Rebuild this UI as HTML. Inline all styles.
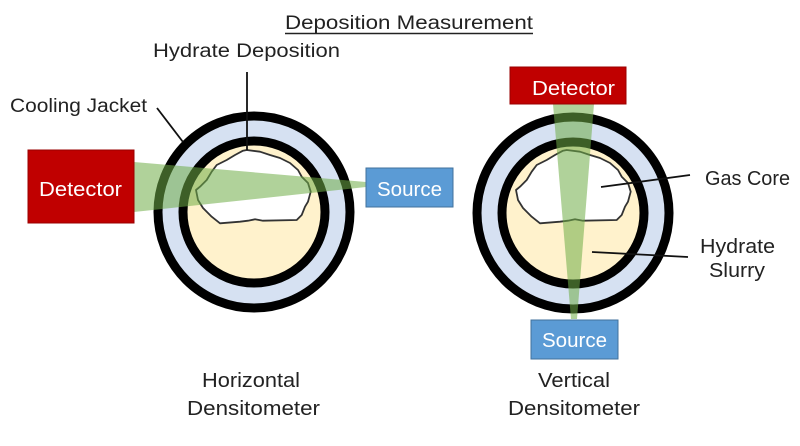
<!DOCTYPE html>
<html>
<head>
<meta charset="utf-8">
<style>
  html,body{margin:0;padding:0;background:#fff;}
  svg{display:block;}
  text{font-family:"Liberation Sans",sans-serif;fill:#222;}
</style>
</head>
<body>
<svg width="800" height="446" viewBox="0 0 800 446" xmlns="http://www.w3.org/2000/svg">
  <rect x="0" y="0" width="800" height="446" fill="#fff"/>

  <!-- Title -->
  <text x="285" y="29" font-size="19" textLength="248" lengthAdjust="spacingAndGlyphs">Deposition Measurement</text>
  <line x1="285" y1="33.5" x2="533" y2="33.5" stroke="#222" stroke-width="1.4"/>

  <!-- ===== Left (Horizontal) ===== -->
  <text x="153" y="57" font-size="19" textLength="187" lengthAdjust="spacingAndGlyphs">Hydrate Deposition</text>
  <text x="10" y="112" font-size="19" textLength="137" lengthAdjust="spacingAndGlyphs">Cooling Jacket</text>

  <circle cx="254" cy="212" r="96" fill="#d6e1f2" stroke="#000" stroke-width="9"/>
  <circle cx="254" cy="212" r="71" fill="#fff2cc" stroke="#000" stroke-width="9"/>
  <polygon points="246.7,150 260,151.7 270,155 280,158 290,163 298,170 301.7,176.7 308,183 310.7,191.7 308,201.7 305,206.7 301.7,215 296.7,220 263,220.7 255,219.3 248,220.7 240,221.7 220,223.3 211.7,216.7 203,208 198,200 196,190 200,186.7 206.7,180 211.7,171.7 216.7,165 226.7,160 235,155 243,150.7" fill="#fff" stroke="#333" stroke-width="1.8" stroke-linejoin="round"/>

  <line x1="247" y1="72" x2="247" y2="150" stroke="#111" stroke-width="1.8"/>
  <line x1="157" y1="108" x2="183" y2="142" stroke="#111" stroke-width="1.8"/>

  <!-- beam -->
  <polygon points="134,162 366,182 366,187 134,212" fill="#70ad47" fill-opacity="0.55"/>

  <rect x="28" y="150" width="106" height="73" fill="#c00000" stroke="#9a0000" stroke-width="1"/>
  <text x="39" y="196" font-size="20" fill="#fff" style="fill:#fff" textLength="83" lengthAdjust="spacingAndGlyphs">Detector</text>

  <rect x="366" y="168" width="87" height="39" fill="#5b9bd5" stroke="#41719c" stroke-width="1"/>
  <text x="377" y="196" font-size="20" style="fill:#fff" textLength="65" lengthAdjust="spacingAndGlyphs">Source</text>

  <text x="202" y="387" font-size="20" textLength="98" lengthAdjust="spacingAndGlyphs">Horizontal</text>
  <text x="187" y="415" font-size="20" textLength="133" lengthAdjust="spacingAndGlyphs">Densitometer</text>

  <!-- ===== Right (Vertical) ===== -->
  <circle cx="573" cy="213" r="96" fill="#d6e1f2" stroke="#000" stroke-width="9"/>
  <circle cx="573" cy="213" r="71" fill="#fff2cc" stroke="#000" stroke-width="9"/>
  <g transform="translate(320,0)">
    <polygon points="246.7,150 260,151.7 270,155 280,158 290,163 298,170 301.7,176.7 308,183 310.7,191.7 308,201.7 305,206.7 301.7,215 296.7,220 263,220.7 255,219.3 248,220.7 240,221.7 220,223.3 211.7,216.7 203,208 198,200 196,190 200,186.7 206.7,180 211.7,171.7 216.7,165 226.7,160 235,155 243,150.7" fill="#fff" stroke="#333" stroke-width="1.8" stroke-linejoin="round"/>
  </g>

  <!-- beam -->
  <polygon points="553,104 594,104 577,319 571,319" fill="#70ad47" fill-opacity="0.55"/>

  <line x1="601" y1="187" x2="690" y2="175" stroke="#111" stroke-width="1.8"/>
  <line x1="592" y1="252" x2="688" y2="257" stroke="#111" stroke-width="1.8"/>

  <rect x="510" y="67" width="116" height="37" fill="#c00000" stroke="#9a0000" stroke-width="1"/>
  <text x="532" y="95" font-size="20" style="fill:#fff" textLength="83" lengthAdjust="spacingAndGlyphs">Detector</text>

  <rect x="531" y="320" width="87" height="39" fill="#5b9bd5" stroke="#41719c" stroke-width="1"/>
  <text x="542" y="347" font-size="20" style="fill:#fff" textLength="65" lengthAdjust="spacingAndGlyphs">Source</text>

  <text x="705" y="185" font-size="20" textLength="85" lengthAdjust="spacingAndGlyphs">Gas Core</text>
  <text x="700" y="253" font-size="20" textLength="75" lengthAdjust="spacingAndGlyphs">Hydrate</text>
  <text x="709" y="277" font-size="20" textLength="56" lengthAdjust="spacingAndGlyphs">Slurry</text>

  <text x="538" y="387" font-size="20" textLength="72" lengthAdjust="spacingAndGlyphs">Vertical</text>
  <text x="508" y="415" font-size="20" textLength="132" lengthAdjust="spacingAndGlyphs">Densitometer</text>
</svg>
</body>
</html>
